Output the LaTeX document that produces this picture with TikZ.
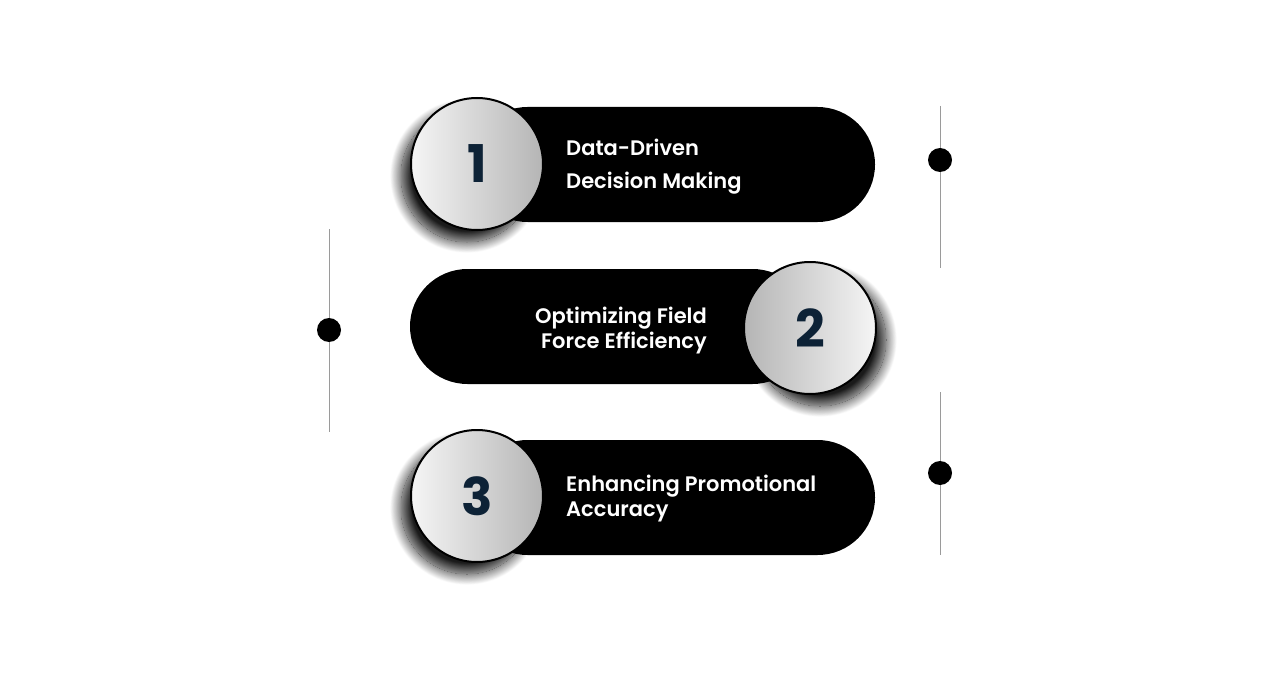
\documentclass[tikz,border=0pt]{standalone}
\usepackage{fontspec}
\setmainfont{Poppins}[UprightFont=* SemiBold, BoldFont=* Bold]
\usetikzlibrary{shadows.blur}
\definecolor{navy}{HTML}{0D2236}
\definecolor{lightg}{HTML}{F5F5F5}
\definecolor{darkg}{HTML}{B5B5B5}
\definecolor{lineg}{HTML}{9A9A9A}
\tikzset{
  pill/.style={fill=black, rounded corners=57.5pt, minimum height=115pt, inner sep=0pt},
  numcircle/.style={circle, minimum size=132pt, inner sep=0pt, draw=black, line width=2pt,
     font=\bfseries\fontsize{52}{52}\selectfont, text=navy},
  lefts/.style={left color=lightg, right color=darkg,
     blur shadow={shadow xshift=-10pt, shadow yshift=-12pt, shadow blur radius=11pt, shadow blur steps=25, shadow opacity=90}},
  rights/.style={left color=darkg, right color=lightg,
     blur shadow={shadow xshift=10pt, shadow yshift=-12pt, shadow blur radius=11pt, shadow blur steps=25, shadow opacity=90}},
  label/.style={text=white, font=\fontsize{21}{25}\selectfont, inner sep=0pt},
  dot/.style={circle, fill=black, minimum size=24pt, inner sep=0pt},
  vline/.style={draw=lineg, line width=1pt}
}
\begin{document}
\begin{tikzpicture}[x=1pt,y=-1pt]
\useasboundingbox (0,0) rectangle (1270,674);
% pills
\node[pill, minimum width=405pt] (p1) at (672.5,164.5) {};
\node[pill, minimum width=400pt] (p2) at (610,326.5) {};
\node[pill, minimum width=405pt] (p3) at (672.5,497.5) {};
% circles
\node[numcircle, lefts] (c1) at (477,164) {1};
\node[numcircle, rights] (c2) at (810,328) {2};
\node[numcircle, lefts] (c3) at (477,496) {3};
% labels
\node[label, anchor=west, align=left, font=\fontsize{21}{33}\selectfont] (t1) at (566,167) {Data-Driven\\Decision Making};
\node[label, anchor=east, align=right] (t2) at (707,331) {Optimizing Field\\Force Efficiency};
\node[label, anchor=west, align=left] (t3) at (566,499) {Enhancing Promotional\\Accuracy};
% side lines
\coordinate (a1) at (940,106); \coordinate (b1) at (940,268);
\coordinate (a2) at (329,229); \coordinate (b2) at (329,432);
\coordinate (a3) at (940,392); \coordinate (b3) at (940,555);
\draw[vline] (a1) -- (b1);
\draw[vline] (a2) -- (b2);
\draw[vline] (a3) -- (b3);
\node[dot] (d1) at (940,160) {};
\node[dot] (d2) at (329,330) {};
\node[dot] (d3) at (940,473) {};
\end{tikzpicture}
\end{document}
